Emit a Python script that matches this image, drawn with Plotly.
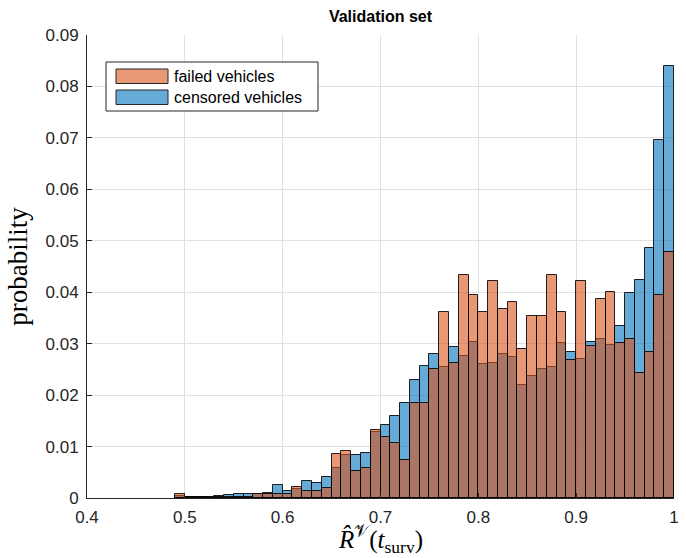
import plotly.graph_objects as go

bin_left = [round(0.49 + 0.01 * i, 2) for i in range(51)]
bin_width = 0.01

failed = [0.0008, 0.0001, 0.0001, 0.0001, 0.0001, 0.0002, 0.0002, 0.0002, 0.0008, 0.0008,
          0.0008, 0.0008, 0.0021, 0.0014, 0.0014, 0.0019, 0.0086, 0.0092, 0.0053, 0.0059,
          0.0132, 0.0118, 0.0106, 0.0073, 0.0184, 0.0184, 0.0250, 0.0361, 0.0263, 0.0434,
          0.0395, 0.0361, 0.0421, 0.0368, 0.0381, 0.0289, 0.0354, 0.0354, 0.0434, 0.0361,
          0.0269, 0.0421, 0.0295, 0.0387, 0.0400, 0.0302, 0.0309, 0.0243, 0.0283, 0.0395,
          0.0479]

censored = [0.0004, 0.0001, 0.0001, 0.0002, 0.0004, 0.0005, 0.0008, 0.0008, 0.0008, 0.0010,
            0.0026, 0.0014, 0.0018, 0.0034, 0.0030, 0.0040, 0.0058, 0.0083, 0.0083, 0.0088,
            0.0129, 0.0142, 0.0160, 0.0185, 0.0229, 0.0257, 0.0280, 0.0255, 0.0294, 0.0276,
            0.0304, 0.0261, 0.0263, 0.0279, 0.0274, 0.0219, 0.0237, 0.0250, 0.0255, 0.0301,
            0.0283, 0.0270, 0.0303, 0.0310, 0.0298, 0.0334, 0.0398, 0.0423, 0.0486, 0.0695,
            0.0839]

series_names = ["failed vehicles", "censored vehicles"]

x_ticks = [0.4, 0.5, 0.6, 0.7, 0.8, 0.9, 1.0]
x_ticklabels = ["0.4", "0.5", "0.6", "0.7", "0.8", "0.9", "1"]
y_ticks = [0, 0.01, 0.02, 0.03, 0.04, 0.05, 0.06, 0.07, 0.08, 0.09]
y_ticklabels = ["0", "0.01", "0.02", "0.03", "0.04", "0.05", "0.06", "0.07", "0.08", "0.09"]

W, H = 686, 558
L, R, T, B = 87, 12, 35, 60
PW, PH = W - L - R, H - T - B

ORANGE = "rgba(217,83,25,0.6)"
BLUE = "rgba(0,114,189,0.6)"
EDGE = "rgba(0,0,0,0.85)"


def px(x):
    return (x - L) / PW


def py(y):
    return (H - B - y) / PH


centers = [b + bin_width / 2 for b in bin_left]

fig = go.Figure()
fig.add_trace(go.Bar(
    x=centers, y=censored, width=bin_width, name=series_names[1], showlegend=False,
    marker=dict(color=BLUE, line=dict(color=EDGE, width=1)),
))
fig.add_trace(go.Bar(
    x=centers, y=failed, width=bin_width, name=series_names[0], showlegend=False,
    marker=dict(color=ORANGE, line=dict(color=EDGE, width=1)),
))

# custom legend (box, swatches, labels)
shapes = [
    dict(type="rect", xref="paper", yref="paper", x0=px(106), x1=px(318), y0=py(111), y1=py(62),
         fillcolor="white", line=dict(color="#262626", width=1), layer="above"),
    dict(type="rect", xref="paper", yref="paper", x0=px(116), x1=px(168), y0=py(83.5), y1=py(69),
         fillcolor="rgb(232,152,117)", line=dict(color="#262626", width=1), layer="above"),
    dict(type="rect", xref="paper", yref="paper", x0=px(116), x1=px(168), y0=py(104.5), y1=py(90),
         fillcolor="rgb(102,170,215)", line=dict(color="#262626", width=1), layer="above"),
]
annotations = []
for name, yc in zip(series_names, [76.5, 97.5]):
    annotations.append(dict(
        text=name, xref="paper", yref="paper", x=px(172), y=py(yc),
        xanchor="left", yanchor="middle", showarrow=False,
        font=dict(family="Liberation Sans, Arial, sans-serif", size=16, color="black"),
    ))

# x-axis label placed as annotation below tick labels
annotations.append(dict(
    text="<i>R̂</i><sup>𝒱</sup>(<i>t</i><sub>surv</sub>)",
    xref="paper", yref="paper", x=0.5, y=py(539), xanchor="center", yanchor="middle",
    showarrow=False,
    font=dict(family="Liberation Serif, DejaVu Serif, serif", size=25, color="black"),
))

axis_font = dict(family="Liberation Sans, Arial, sans-serif", size=17, color="#262626")

fig.update_layout(
    width=W, height=H,
    barmode="overlay",
    bargap=0,
    plot_bgcolor="white",
    paper_bgcolor="white",
    showlegend=False,
    margin=dict(l=L, r=R, t=T, b=B, autoexpand=False),
    title=dict(text="<b>Validation set</b>", x=(L + W - R) / 2 / W, xanchor="center",
               y=1 - 16 / H, yanchor="middle",
               font=dict(family="Liberation Sans, Arial, sans-serif", size=16, color="black")),
    shapes=shapes,
    annotations=annotations,
    xaxis=dict(range=[0.4, 1.0], tickvals=x_ticks, ticktext=x_ticklabels,
               showgrid=True, gridcolor="#e0e0e0", gridwidth=1,
               showline=True, linecolor="#262626", linewidth=1,
               ticks="inside", ticklen=5, tickcolor="#262626",
               tickfont=axis_font, zeroline=False, ticklabelstandoff=4),
    yaxis=dict(range=[0, 0.09], tickvals=y_ticks, ticktext=y_ticklabels,
               showgrid=True, gridcolor="#e0e0e0", gridwidth=1,
               showline=True, linecolor="#262626", linewidth=1,
               ticks="inside", ticklen=5, tickcolor="#262626",
               tickfont=axis_font, zeroline=False, ticklabelstandoff=4,
               title=dict(text="probability",
                          font=dict(family="Liberation Serif, DejaVu Serif, serif", size=27, color="black"),
                          standoff=10)),
)

fig.write_html("out.html")
